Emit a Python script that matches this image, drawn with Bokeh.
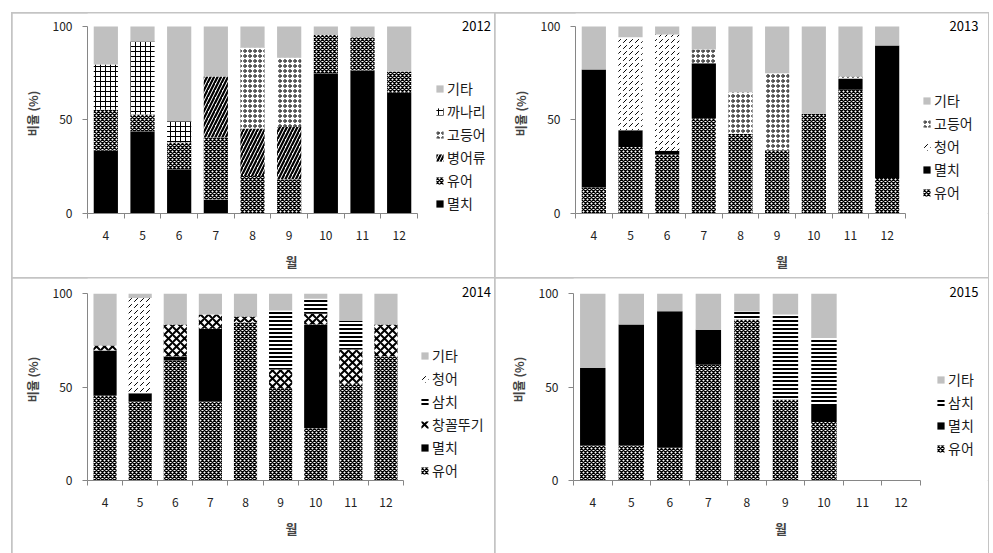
from bokeh.plotting import figure
from bokeh.models import (Range1d, FixedTicker, Legend, LegendItem, Label,
                          ColumnDataSource)
from bokeh.layouts import column, row
from bokeh.embed import file_html
from bokeh.resources import INLINE

months = [4, 5, 6, 7, 8, 9, 10, 11, 12]
y_ticks = [0, 50, 100]
y_label = "비율 (%)"
x_label = "월"

# ---- 2012 (stack order bottom -> top)
names_2012 = ["멸치", "유어", "병어류", "고등어", "까나리", "기타"]
s2012_myeolchi = [33.5, 44.0, 23.7, 7.5, 0, 0, 75.0, 76.5, 64.6]
s2012_yueo = [22.0, 9.0, 14.3, 33.1, 20.0, 18.3, 20.4, 17.8, 11.4]
s2012_byeongeo = [0, 0, 0, 32.7, 25.4, 28.0, 0, 0, 0]
s2012_godeungeo = [0, 0, 0, 0, 43.2, 37.0, 0, 0, 0]
s2012_kkanari = [24.2, 39.0, 11.3, 0, 0, 0, 0, 0, 0]
s2012_gita = [20.3, 8.0, 50.7, 26.7, 11.4, 16.7, 4.6, 5.7, 24.0]

# ---- 2013
names_2013 = ["유어", "멸치", "청어", "고등어", "기타"]
s2013_yueo = [13.9, 35.6, 31.5, 51.0, 42.7, 33.8, 53.4, 66.2, 19.0]
s2013_myeolchi = [63.1, 8.9, 2.0, 29.4, 0, 0, 0, 6.0, 70.9]
s2013_cheongeo = [0, 49.8, 62.2, 0, 0, 0, 0, 0, 0]
s2013_godeungeo = [0, 0, 0, 7.3, 22.1, 41.2, 0, 1.1, 0]
s2013_gita = [23.0, 5.7, 4.3, 12.3, 35.2, 25.0, 46.6, 26.7, 10.1]

# ---- 2014
names_2014 = ["유어", "멸치", "창꼴뚜기", "삼치", "청어", "기타"]
s2014_yueo = [45.5, 42.3, 64.3, 42.3, 84.8, 49.1, 28.0, 51.8, 66.6]
s2014_myeolchi = [24.1, 4.5, 2.1, 39.0, 0, 0, 55.6, 0, 0]
s2014_changkkol = [2.7, 0, 17.2, 7.6, 3.1, 10.4, 5.7, 18.4, 17.0]
s2014_samchi = [0, 0, 0, 0, 0, 31.5, 8.0, 15.2, 0]
s2014_cheongeo = [0, 50.9, 0, 0, 0, 0, 0, 0, 0]
s2014_gita = [27.7, 2.3, 16.4, 11.1, 12.1, 9.0, 2.7, 14.6, 16.4]

# ---- 2015 (no data for months 11, 12)
names_2015 = ["유어", "멸치", "삼치", "기타"]
s2015_yueo = [18.8, 18.8, 17.5, 62.0, 86.2, 43.4, 31.3, 0, 0]
s2015_myeolchi = [41.4, 64.8, 73.2, 18.7, 0, 0, 9.2, 0, 0]
s2015_samchi = [0, 0, 0, 0, 4.3, 45.5, 35.8, 0, 0]
s2015_gita = [39.8, 16.4, 9.3, 19.3, 9.5, 11.1, 23.7, 0, 0]

AX = "#868686"
KFONT = "Noto Sans CJK KR"

# name -> (fill, hatch, scale, weight)
STYLE = {
    "멸치": ("black", None, 1, 1),
    "유어": ("white", "x", 4, 1.4),
    "병어류": ("white", "/", 7, 2.2),
    "고등어": ("white", "o", 5, 1.0),
    "까나리": ("white", "+", 5, 1.0),
    "기타": ("#c0c0c0", None, 1, 1),
    "청어": ("white", ",", 6, 1),
    "창꼴뚜기": ("white", "x", 8, 2.0),
    "삼치": ("white", "-", 4, 2),
}


def make_panel(year, names, series, W, H, left, bottom, x_end, y_end, leg_xy, leg_gap, title_xy):
    data = {"month": months}
    for n, s in zip(names, series):
        data[n] = s
    src = ColumnDataSource(data)
    p = figure(width=W, height=H, x_range=Range1d(months[0] - 0.5, x_end),
               y_range=Range1d(0, y_end), output_backend="svg", toolbar_location=None,
               min_border_left=left, min_border_right=0, min_border_top=0,
               min_border_bottom=bottom)
    p.outline_line_color = None
    p.xgrid.visible = False
    p.ygrid.visible = False
    p.background_fill_color = "white"
    p.border_fill_color = "white"
    p.styles = {"outline": "2px solid #c4c4c4", "outline-offset": "-1px"}

    rs = p.vbar_stack(
        names, x="month", width=0.66, source=src,
        fill_color=[STYLE[n][0] for n in names],
        hatch_pattern=[STYLE[n][1] for n in names],
        hatch_scale=[STYLE[n][2] for n in names],
        hatch_weight=[STYLE[n][3] for n in names],
        hatch_color="black", line_color=None,
    )

    xa = p.xaxis[0]
    xa.ticker = FixedTicker(ticks=months,
                            minor_ticks=[m - 0.5 for m in months] + [months[-1] + 0.5])
    xa.bounds = (months[0] - 0.5, months[-1] + 0.5)
    xa.major_tick_out = 0
    xa.major_tick_in = 0
    xa.major_tick_line_color = None
    xa.minor_tick_out = 5
    xa.minor_tick_in = 0
    xa.minor_tick_line_color = AX
    xa.axis_line_color = AX
    xa.major_label_standoff = 12
    xa.major_label_text_font = KFONT
    xa.major_label_text_font_size = "12px"
    xa.major_label_text_color = "#222222"
    xa.axis_label = x_label
    xa.axis_label_text_font = KFONT
    xa.axis_label_text_font_style = "bold"
    xa.axis_label_text_font_size = "13px"
    xa.axis_label_standoff = 9

    ya = p.yaxis[0]
    ya.ticker = FixedTicker(ticks=y_ticks)
    ya.bounds = (y_ticks[0], y_ticks[-1])
    ya.major_tick_out = 5
    ya.major_tick_in = 0
    ya.minor_tick_line_color = None
    ya.major_tick_line_color = AX
    ya.axis_line_color = AX
    ya.major_label_standoff = 10
    ya.major_label_text_font = KFONT
    ya.major_label_text_font_size = "12px"
    ya.major_label_text_color = "#222222"
    ya.axis_label = y_label
    ya.axis_label_text_font = KFONT
    ya.axis_label_text_font_style = "bold"
    ya.axis_label_text_font_size = "12px"
    ya.axis_label_standoff = 9

    items = [LegendItem(label=n, renderers=[r]) for n, r in reversed(list(zip(names, rs)))]
    leg = Legend(items=items, location=leg_xy, orientation="vertical",
                 padding=0, margin=0, spacing=leg_gap, label_height=20,
                 glyph_height=9, glyph_width=9, label_standoff=3,
                 border_line_color=None, background_fill_alpha=0,
                 label_text_font=KFONT, label_text_font_size="14px",
                 label_text_color="#1a1a1a")
    p.add_layout(leg)

    p.add_layout(Label(x=title_xy[0], y=title_xy[1], text=str(year),
                       text_align="right", text_baseline="middle",
                       text_font=KFONT, text_font_size="13px", text_color="black"))
    return p


p1 = make_panel(2012, names_2012,
                [s2012_myeolchi, s2012_yueo, s2012_byeongeo, s2012_godeungeo, s2012_kkanari, s2012_gita],
                483, 265, 75, 65, 14.627, 106.95, (348, 0), 3, (14.5, 100.5))
p2 = make_panel(2013, names_2013,
                [s2013_yueo, s2013_myeolchi, s2013_cheongeo, s2013_godeungeo, s2013_gita],
                493, 265, 80, 65, 14.764, 106.95, (347, 11), 3, (14.49, 100.5))
p3 = make_panel(2014, names_2014,
                [s2014_yueo, s2014_myeolchi, s2014_changkkol, s2014_samchi, s2014_cheongeo, s2014_gita],
                483, 275, 75, 73, 15.12, 108.2, (333, 0), 3, (14.99, 100.9))
p4 = make_panel(2015, names_2015,
                [s2015_yueo, s2015_myeolchi, s2015_samchi, s2015_gita],
                493, 275, 78, 73, 14.27, 108.2, (363, 22), 3, (14.01, 100.9))

layout = column(row(p1, p2), row(p3, p4), margin=(13, 0, 0, 12))

open("out.html", "w").write(file_html(layout, INLINE))
